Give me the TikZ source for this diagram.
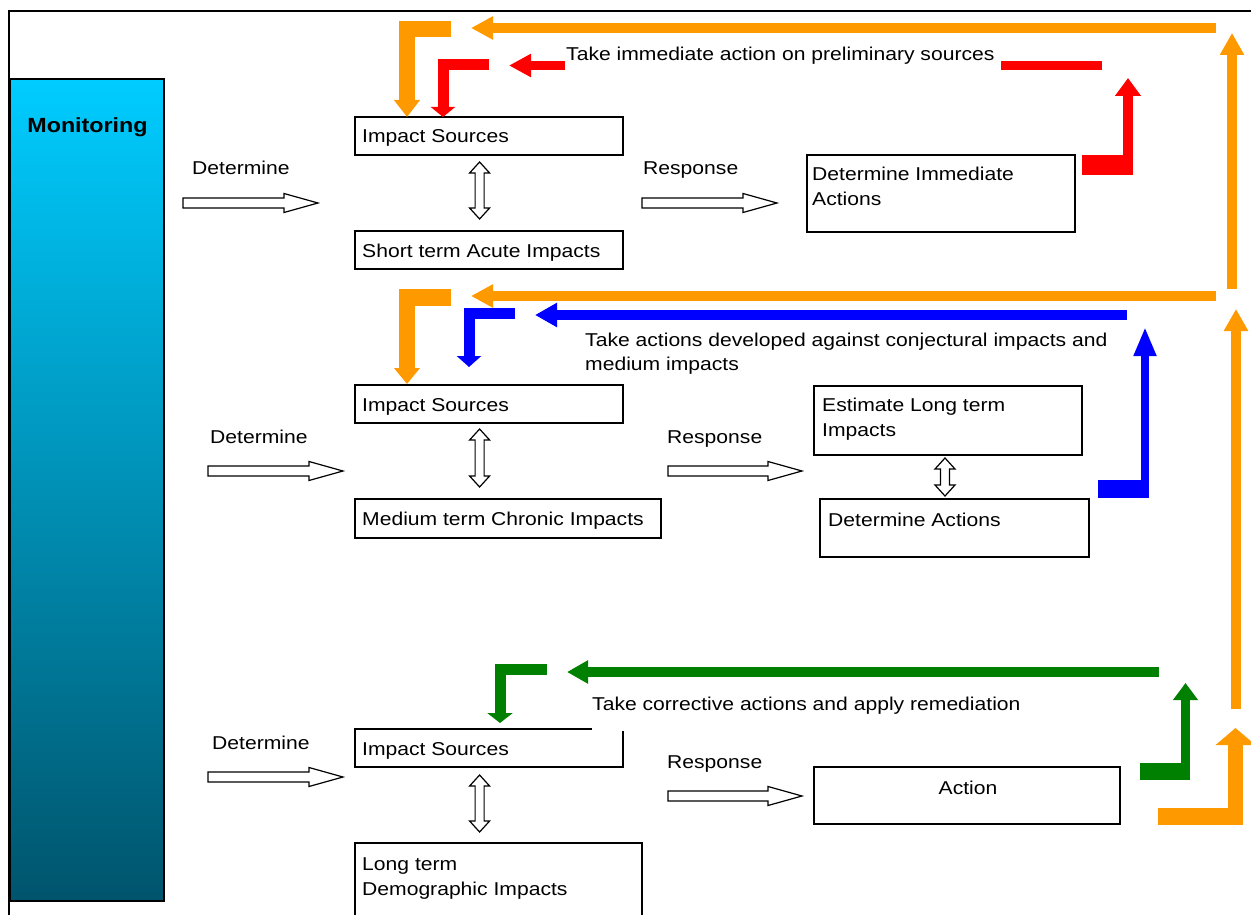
\documentclass[tikz,border=0pt]{standalone}
\usepackage{fontspec}
\setmainfont{Liberation Sans}[FakeStretch=1.135]
\usetikzlibrary{arrows.meta}
\definecolor{orng}{RGB}{255,153,0}
\definecolor{rd}{RGB}{255,0,0}
\definecolor{bl}{RGB}{0,0,255}
\definecolor{gr}{RGB}{0,128,0}
\definecolor{montop}{RGB}{0,204,255}
\definecolor{monmid}{RGB}{0,158,198}
\definecolor{monbot}{RGB}{0,84,108}
\tikzset{
  box/.style={draw=black, line width=1.3pt, inner sep=0pt, fill=white},
  txt/.style={font=\fontsize{18.6}{24}\selectfont, inner sep=0pt, anchor=base west},
  hollow/.style={draw=black, fill=white, line width=1.2pt, line join=miter},
  cline/.style={line join=miter, line cap=butt},
}
% hollow right arrow: x1 x2 y
\newcommand{\hollowarr}[3]{%
  \draw[hollow] (#1,#3-5) -- (#2-34,#3-5) -- (#2-34,#3-9.5) -- (#2,#3) -- (#2-34,#3+9.5) -- (#2-34,#3+5) -- (#1,#3+5) -- cycle;}
% hollow double vertical arrow: x y1 y2
\newcommand{\dblarr}[3]{%
  \draw[hollow] (#1-4.5,#2+11) -- (#1-10,#2+11) -- (#1,#2) -- (#1+10,#2+11) -- (#1+4.5,#2+11) -- (#1+4.5,#3-11) -- (#1+10,#3-11) -- (#1,#3) -- (#1-10,#3-11) -- (#1-4.5,#3-11) -- cycle;}
\begin{document}
\begin{tikzpicture}[x=1pt,y=-1pt]
\useasboundingbox (0,0) rectangle (1251,915);
\clip (0,0) rectangle (1251,915);
\fill[white] (0,0) rectangle (1251,915);
% outer frame
\draw[line width=1.5pt] (9,940) -- (9,11) -- (1280,11);
% monitoring column
\node[draw=black, line width=1.3pt, top color=montop, middle color=monmid, bottom color=monbot, minimum width=154pt, minimum height=822pt, inner sep=0pt] (mon) at (87,490) {};
\node[font=\fontsize{20.5}{24}\selectfont\bfseries, inner sep=0pt, anchor=base] (montxt) at (87.5,133) {Monitoring};
% boxes
\node[box, minimum width=268pt, minimum height=38pt] (b1) at (489,136) {};
\node[box, minimum width=268pt, minimum height=38pt] (b2) at (489,250) {};
\node[box, minimum width=268pt, minimum height=77pt] (b3) at (941,193.5) {};
\node[box, minimum width=268pt, minimum height=38pt] (b4) at (489,404) {};
\node[box, minimum width=306pt, minimum height=39pt] (b5) at (508,518.5) {};
\node[box, minimum width=268pt, minimum height=69pt] (b6) at (948,420.5) {};
\node[box, minimum width=269pt, minimum height=58pt] (b7) at (954.5,528) {};
\node[box, minimum width=268pt, minimum height=38pt] (b8) at (489,748) {};
\node[box, minimum width=287pt, minimum height=87pt] (b9) at (498.5,886.5) {};
\node[box, minimum width=306pt, minimum height=57pt] (b10) at (967,795.5) {};
% hollow arrows
\hollowarr{183}{318}{203}
\hollowarr{642}{777}{203}
\hollowarr{208}{343}{471}
\hollowarr{668}{802}{471}
\hollowarr{208}{343}{777}
\hollowarr{668}{802}{796}
\dblarr{479.6}{162}{219}
\dblarr{479.6}{429}{487}
\dblarr{479.6}{775}{832}
\dblarr{945}{458}{496}
% orange
\draw[cline, orng, line width=10pt, -{Triangle[width=22pt,length=22pt]}] (1216,28) -- (471,28);
\draw[cline, orng, line width=16pt, -{Triangle[width=25pt,length=17pt]}] (451,29) -- (407,29) -- (407,117);
\draw[cline, orng, line width=10pt, -{Triangle[width=22pt,length=22pt]}] (1216,296) -- (471,296);
\draw[cline, orng, line width=16.5pt, -{Triangle[width=25pt,length=16pt]}] (451,297.5) -- (407,297.5) -- (407,384);
\draw[cline, orng, line width=10pt, -{Triangle[width=23pt,length=22pt]}] (1232,289) -- (1232,33);
\draw[cline, orng, line width=10pt, -{Triangle[width=23pt,length=22pt]}] (1236,709) -- (1236,309);
\fill[orng] (1158,808) rectangle (1243,825);
\draw[cline, orng, line width=15pt, -{Triangle[width=39pt,length=17pt]}] (1235.5,825) -- (1235.5,728);
% red
\draw[cline, rd, line width=9.5pt, -{Triangle[width=22pt,length=22pt]}] (565,65.5) -- (509,65.5);
\fill[rd] (1001,61) rectangle (1102,70);
\draw[cline, rd, line width=11pt, -{Triangle[width=24pt,length=10pt]}] (489,64.5) -- (443,64.5) -- (443,117);
\fill[rd] (1082,155) rectangle (1133,175);
\draw[cline, rd, line width=10pt, -{Triangle[width=25pt,length=18pt]}] (1128,175) -- (1128,78);
% blue
\draw[cline, bl, line width=10pt, -{Triangle[width=23pt,length=22pt]}] (1127,315) -- (535,315);
\draw[cline, bl, line width=11pt, -{Triangle[width=24pt,length=11pt]}] (515,313.5) -- (469,313.5) -- (469,367);
\fill[bl] (1098,480) rectangle (1149,498);
\draw[cline, bl, line width=8pt, -{Triangle[width=21pt,length=29pt]}] (1145,498) -- (1145,327);
% green
\draw[cline, gr, line width=10pt, -{Triangle[width=22pt,length=21pt]}] (1159,672) -- (567,672);
\draw[cline, gr, line width=11pt, -{Triangle[width=25pt,length=10pt]}] (547,669.5) -- (500,669.5) -- (500,723);
\fill[gr] (1140,763) rectangle (1190,780);
\draw[cline, gr, line width=9.5pt, -{Triangle[width=24pt,length=17pt]}] (1185.5,780) -- (1185.5,683);
% texts
\node[txt] (detA) at (192,175) {Determine};
\node[txt] (resA) at (643,175) {Response};
\node[txt] (isA) at (362,143) {Impact Sources};
\node[txt] (stA) at (362,257) {Short term Acute Impacts};
\node[txt] (diA1) at (812,180.5) {Determine Immediate};
\node[txt] (diA2) at (812,205) {Actions};
\node[txt] (takeA) at (566,61) {Take immediate action on preliminary sources};
\node[txt] (detB) at (210,443) {Determine};
\node[txt] (isB) at (362,411) {Impact Sources};
\node[txt] (mtB) at (362,525.5) {Medium term Chronic Impacts};
\node[txt] (takeB1) at (585,346.7) {Take actions developed against conjectural impacts and};
\node[txt] (takeB2) at (585,370.7) {medium impacts};
\node[txt] (resB) at (667,443) {Response};
\node[txt] (elB1) at (822,411.7) {Estimate Long term};
\node[txt] (elB2) at (822,436.7) {Impacts};
\node[txt] (daB) at (828,526) {Determine Actions};
\node[txt] (detC) at (212,749) {Determine};
\node[txt] (isC) at (362,755) {Impact Sources};
\node[txt] (ltC1) at (362,870) {Long term};
\node[txt] (ltC2) at (362,895) {Demographic Impacts};
\node[txt, fill=white, text depth=20.5pt] (takeC) at (592,710) {Take corrective actions and apply remediation};
\node[txt] (resC) at (667,768) {Response};
\node[txt, anchor=base] (actC) at (968,794) {Action};
\end{tikzpicture}
\end{document}
